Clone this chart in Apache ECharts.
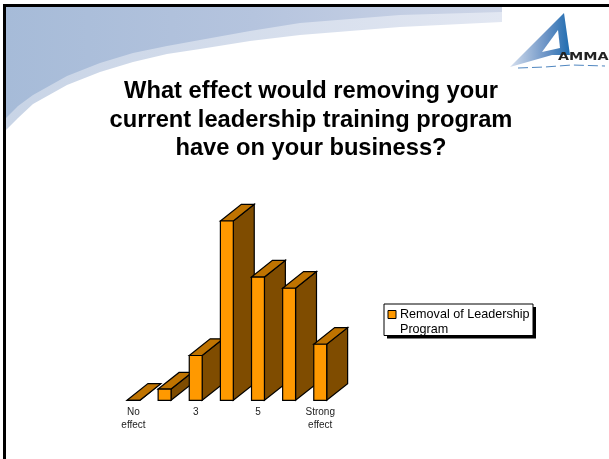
<!DOCTYPE html>
<html lang="en" style="height: 100%">
<head>
  <meta charset="utf-8">
</head>
<body style="height: 100%; margin: 0; background: #fff">
  <div id="container" style="width: 609px; height: 459px"></div>
  <script type="text/javascript" src="https://cdn.jsdelivr.net/npm/echarts@6/dist/echarts.min.js"></script>
  <script type="text/javascript">
    var titleText = 'What effect would removing your\ncurrent leadership training program\nhave on your business?';
    var seriesName = 'Removal of Leadership Program';
    var categories = ['No\neffect', '2', '3', '4', '5', '6', 'Strong\neffect'];
    var tickLabels = ['No\neffect', '', '3', '', '5', '', 'Strong\neffect'];
    var values = [0, 1, 4, 16, 11, 10, 5];

    var fontName = '"Liberation Sans", Arial, sans-serif';
    var dom = document.getElementById('container');
    var myChart = echarts.init(dom, null, { renderer: 'canvas' });

    // 3D look of the old slide chart: front, top and side faces
    function renderBar(params, api) {
      var top = api.coord([api.value(0), api.value(1)]);
      var base = api.coord([api.value(0), 0]);
      var w = api.size([1, 0])[0] * 0.415;
      var dx = w * 1.62;
      var dy = w * 1.29;
      var x0 = top[0] - w / 2;
      var x1 = top[0] + w / 2;
      var line = { stroke: '#000', lineWidth: 1.2 };
      return {
        type: 'group',
        children: [
          {
            type: 'polygon',
            shape: { points: [[x1, top[1]], [x1 + dx, top[1] - dy], [x1 + dx, base[1] - dy], [x1, base[1]]] },
            style: Object.assign({ fill: '#7f4c00' }, line)
          },
          {
            type: 'polygon',
            shape: { points: [[x0, top[1]], [x0 + dx, top[1] - dy], [x1 + dx, top[1] - dy], [x1, top[1]]] },
            style: Object.assign({ fill: '#bf7300' }, line)
          },
          {
            type: 'rect',
            shape: { x: x0, y: top[1], width: w, height: base[1] - top[1] },
            style: Object.assign({ fill: '#ff9900' }, line)
          }
        ]
      };
    }

    var option = {
      animation: false,
      backgroundColor: '#fff',
      title: {
        text: titleText,
        left: 306,
        top: 72,
        textAlign: 'center',
        textStyle: {
          fontFamily: fontName,
          fontSize: 23.7,
          fontWeight: 'bold',
          color: '#000',
          lineHeight: 28.7
        }
      },
      legend: {
        left: 384,
        top: 304.5,
        padding: [2.5, 4, 0, 3.5],
        itemWidth: 8,
        itemHeight: 23,
        itemGap: 0,
        formatter: function () {
          return 'Removal of Leadership\nProgram';
        },
        textStyle: {
          fontFamily: fontName,
          fontSize: 12.6,
          color: '#000',
          lineHeight: 15,
          padding: [0, 0, 0, -1]
        },
        data: [{
          name: seriesName,
          // swatch sits on the first text line, the empty tail keeps it there
          icon: 'path://M0 0H8V8H0ZM0 23L0 23',
          itemStyle: { color: '#ff9900', borderColor: '#000', borderWidth: 1 }
        }]
      },
      grid: { left: 117.9, top: 221, width: 217.9, height: 179.3 },
      xAxis: {
        type: 'category',
        data: categories,
        axisLine: { show: false },
        axisTick: { show: false },
        axisLabel: {
          interval: 0,
          margin: 5,
          fontFamily: fontName,
          fontSize: 10,
          lineHeight: 13.5,
          color: '#222',
          formatter: function (value, index) {
            return tickLabels[index];
          }
        }
      },
      yAxis: { type: 'value', min: 0, max: 16, show: false },
      series: [{
        name: seriesName,
        type: 'custom',
        renderItem: renderBar,
        encode: { x: 0, y: 1 },
        itemStyle: { color: '#ff9900' },
        data: values.map(function (v, i) { return [i, v]; })
      }],
      graphic: [
        // slide background swoosh
        {
          type: 'polygon', z: -10, silent: true,
          shape: { points: [[6, 6], [502, 6], [502, 22], [400, 27], [300, 35], [250, 41], [200, 49], [167, 54], [133, 62], [100, 72], [67, 85], [33, 104], [18, 118], [6, 130]] },
          style: { fill: { type: 'linear', x: 0, y: 0, x2: 1, y2: 0, colorStops: [{ offset: 0, color: '#c8d4e6' }, { offset: 1, color: '#e2e7f2' }] } }
        },
        {
          type: 'polygon', z: -9, silent: true,
          shape: { points: [[6, 6], [502, 6], [502, 12], [400, 15], [300, 23], [250, 31], [200, 40], [167, 46], [133, 53], [100, 63], [67, 76], [33, 95], [18, 106], [6, 118]] },
          style: { fill: { type: 'linear', x: 0, y: 0, x2: 1, y2: 0, colorStops: [{ offset: 0, color: '#a6bbd8' }, { offset: 0.5, color: '#b5c4de' }, { offset: 1, color: '#cdd5e7' }] } }
        },
        // border, left and top only
        { type: 'rect', z: -5, silent: true, shape: { x: 3, y: 4, width: 606, height: 3 }, style: { fill: '#000' } },
        { type: 'rect', z: -5, silent: true, shape: { x: 3, y: 4, width: 3, height: 455 }, style: { fill: '#000' } },
        // logo
        {
          type: 'polygon', z: -4, silent: true,
          shape: { points: [[564, 13], [570, 55], [552, 55], [510, 67]] },
          style: { fill: { type: 'linear', x: 0, y: 0, x2: 1, y2: 0, colorStops: [{ offset: 0, color: '#d5dfee' }, { offset: 0.6, color: '#6c94c6' }, { offset: 1, color: '#1f6cb0' }] } }
        },
        {
          type: 'polygon', z: -3, silent: true,
          shape: { points: [[558, 30], [560, 48], [542, 52]] },
          style: { fill: '#fff' }
        },
        {
          type: 'text', z: -3, silent: true, x: 558, y: 52, scaleX: 1.3,
          style: { text: 'AMMA', fill: '#222', font: 'bold 11px "DejaVu Sans"' }
        },
        {
          type: 'polyline', z: -3, silent: true,
          shape: { points: [[518, 68], [545, 67], [572, 65], [605, 66]] },
          style: { stroke: '#4f86c0', fill: null, lineWidth: 1, lineDash: [10, 4] }
        },
        // legend box with its hard shadow
        { type: 'rect', z: -2, silent: true, shape: { x: 387, y: 307, width: 149, height: 31.5 }, style: { fill: '#000' } },
        { type: 'rect', z: -2, silent: true, shape: { x: 384, y: 304, width: 149, height: 31.5 }, style: { fill: '#fff', stroke: '#000', lineWidth: 1 } }
      ]
    };

    myChart.setOption(option);
    window.addEventListener('resize', myChart.resize);
  </script>
</body>
</html>
